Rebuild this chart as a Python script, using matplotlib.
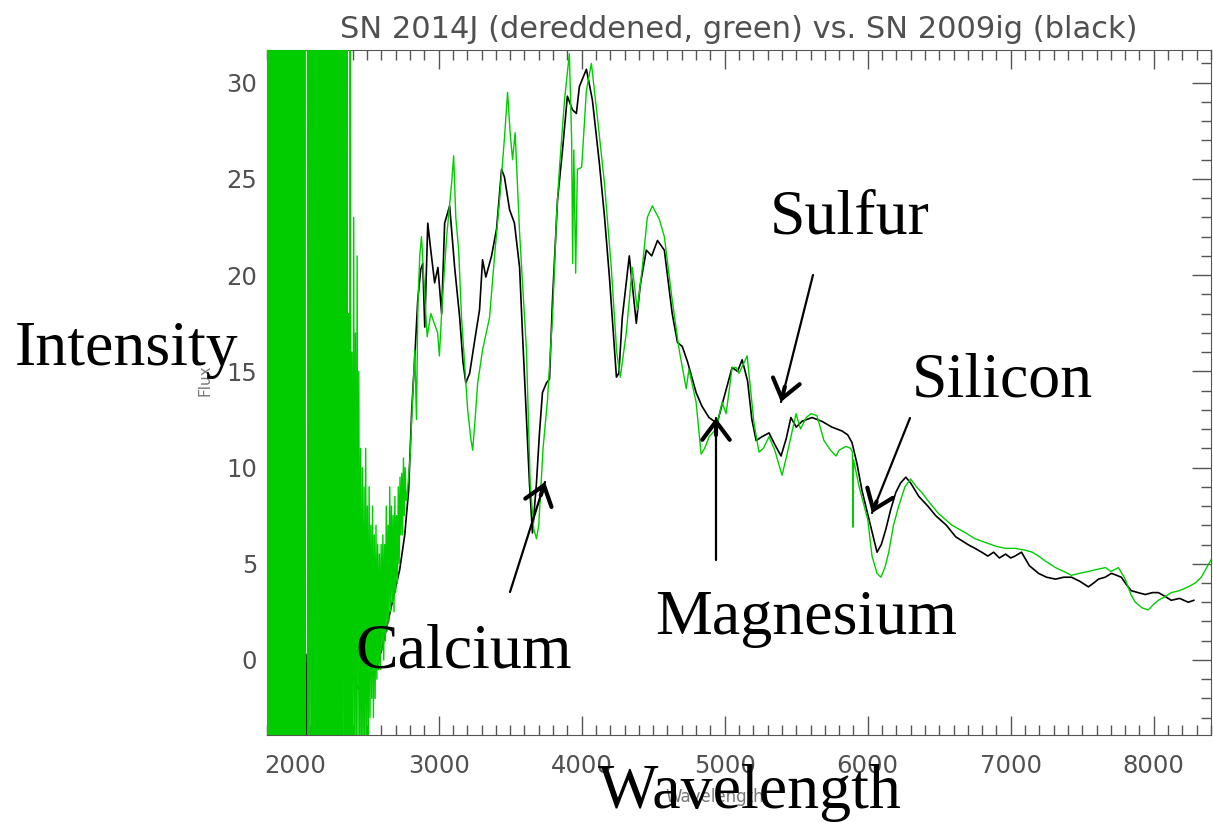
import numpy as np
import matplotlib.pyplot as plt
from matplotlib.ticker import MultipleLocator

# SN 2009ig (black): wavelength [A], flux
ig_wave = [2000, 2020, 2040, 2060, 2072, 2078, 2082, 2090, 2120, 2160, 2200, 2240,
           2280, 2320, 2360, 2400, 2440, 2484, 2530, 2568, 2610, 2658, 2700, 2728,
           2763, 2790, 2812, 2833, 2854, 2875, 2889, 2903, 2924, 2945, 2972, 2995,
           3021, 3042, 3077, 3112, 3147, 3170, 3190, 3217, 3252, 3286, 3307, 3330,
           3370, 3405, 3440, 3460, 3496, 3530, 3566, 3586, 3614, 3635, 3656, 3684,
           3705, 3726, 3754, 3775, 3796, 3831, 3866, 3900, 3935, 3963, 3984, 4033,
           4075, 4124, 4160, 4194, 4243, 4260, 4284, 4333, 4382, 4410, 4452, 4490,
           4530, 4578, 4633, 4670, 4703, 4740, 4800, 4840, 4890, 4947, 4990, 5052,
           5090, 5122, 5160, 5190, 5220, 5260, 5310, 5350, 5394, 5430, 5463, 5500,
           5540, 5610, 5680, 5750, 5820, 5860, 5890, 5925, 5960, 6022, 6065, 6095,
           6127, 6160, 6196, 6230, 6266, 6300, 6357, 6420, 6475, 6550, 6615, 6700,
           6750, 6797, 6840, 6880, 6920, 6964, 7000, 7030, 7075, 7130, 7194, 7250,
           7313, 7370, 7424, 7480, 7543, 7580, 7613, 7660, 7704, 7740, 7773, 7810,
           7843, 7890, 7941, 7990, 8032, 8080, 8122, 8180, 8241, 8280]
ig_flux = [0.5, -0.5, 0.8, -1.0, 0.3, -3.9, -0.5, 0.4, 0.3, -0.8, 0.6, -0.4,
           0.9, -0.6, 0.2, -0.9, -1.5, -1.0, -0.8, -0.4, 0.8, 2.4, 3.8, 4.7,
           6.5, 8.8, 13.0, 15.7, 18.7, 20.3, 20.6, 17.3, 22.7, 21.3, 19.6, 20.4,
           18.0, 22.7, 23.6, 20.4, 17.8, 15.5, 14.4, 14.9, 16.6, 18.2, 20.8, 19.9,
           21.0, 22.4, 25.5, 25.1, 23.4, 22.7, 20.4, 17.0, 12.6, 9.2, 6.6, 9.2,
           11.8, 13.9, 14.4, 14.6, 18.7, 23.9, 26.5, 29.3, 28.6, 28.4, 29.8, 30.7,
           29.1, 25.8, 23.0, 19.9, 14.7, 14.9, 17.8, 21.0, 17.5, 19.5, 21.3, 21.0,
           21.8, 21.3, 18.0, 16.5, 16.3, 15.5, 13.9, 13.2, 12.6, 12.3, 13.5, 15.2,
           15.0, 15.6, 14.5, 12.5, 11.4, 11.6, 11.8, 11.2, 10.6, 11.5, 12.6, 12.1,
           12.4, 12.6, 12.4, 12.1, 11.9, 11.7, 11.3, 10.2, 8.8, 6.9, 5.6, 6.0,
           6.8, 7.8, 8.7, 9.2, 9.5, 9.2, 8.5, 8.0, 7.5, 7.0, 6.4, 6.0,
           5.8, 5.6, 5.4, 5.6, 5.3, 5.5, 5.3, 5.4, 5.6, 4.9, 4.5, 4.3,
           4.2, 4.3, 4.3, 4.1, 3.8, 4.0, 4.2, 4.3, 4.5, 4.4, 4.3, 3.9,
           3.6, 3.5, 3.4, 3.5, 3.5, 3.3, 3.1, 3.2, 3.0, 3.1]

# SN 2014J (green): noisy UV part on a 6 A grid
j_uv_wave = np.arange(1800, 2778, 6)
j_uv_flux = [40, -10, 42, -8, 39, -12, 44, -9, 41, -11,
             38, -7, 43, -10, 40, -13, 45, -8, 37, -10,
             42, -9, 39, -12, 44, -7, 41, -10, 38, -11,
             43, -8, 40, -12, 39, -9, 45, -10, 41, -7,
             44, -11, 38, -9, 42, -10, np.nan, 41, -12, 39,
             -8, 43, -10, 40, -13, 42, -9, 38, -11, 44,
             -7, 41, -10, 39, -12, 45, -8, 40, -9, 42,
             -11, 38, -10, 43, -7, 41, -12, 39, -9, 44,
             -10, 40, -8, 42, -11, 38, -9, 41, -12, 43,
             -7, 39, -10, 42, -9, 18, -11, 40, -8, 16,
             -6, 23, -5, 17, -6, 21, -4, 15, -5, 11,
             -6, 10, -5, 9, -6, 11, -4, 8, -5, 9,
             -3, 7, -2, 8, -3, 6.5, -2, 7, -1, 6,
             -0.5, 5.5, -0.5, 6, 0.5, 6.5, 0, 6, 1, 8,
             1.5, 7, 2, 9, 2.5, 8, 3, 7.5, 2.5, 8.5,
             3.5, 7.5, 4, 9, 5, 9.5, 6.5, 9.7, 6.5, 10.5,
             7.5, 10, 8.3]

# SN 2014J (green): optical part
j_wave = [2777, 2800, 2833, 2845, 2855, 2868, 2880, 2910, 2920, 2945, 2993, 3005,
          3025, 3056, 3091, 3105, 3120, 3140, 3160, 3203, 3225, 3238, 3255, 3273,
          3307, 3356, 3391, 3426, 3461, 3482, 3500, 3517, 3535, 3566, 3614, 3640,
          3665, 3684, 3700, 3730, 3761, 3796, 3824, 3845, 3880, 3914, 3930, 3937,
          3945, 3958, 3970, 4000, 4033, 4068, 4110, 4159, 4207, 4245, 4270, 4312,
          4354, 4389, 4424, 4459, 4494, 4543, 4578, 4633, 4682, 4731, 4750, 4800,
          4835, 4860, 4891, 4940, 4982, 5010, 5052, 5080, 5100, 5157, 5205, 5240,
          5270, 5310, 5350, 5401, 5430, 5463, 5499, 5530, 5570, 5603, 5645, 5694,
          5740, 5778, 5800, 5847, 5880, 5893, 5897, 5901, 5940, 6000, 6030, 6065,
          6092, 6120, 6147, 6180, 6217, 6260, 6300, 6340, 6378, 6440, 6496, 6590,
          6685, 6750, 6824, 6900, 6964, 7030, 7103, 7150, 7194, 7250, 7313, 7370,
          7424, 7480, 7543, 7600, 7662, 7700, 7753, 7800, 7840, 7871, 7920, 7962,
          8000, 8032, 8080, 8122, 8180, 8241, 8290, 8332, 8370, 8400]
j_flux = [8.3, 10.5, 16.1, 12.5, 18.5, 21.0, 22.0, 18.0, 16.8, 18.0, 17.0, 15.8,
          18.6, 22.0, 24.8, 26.2, 23.0, 21.3, 17.8, 13.0, 11.5, 10.9, 12.5, 14.4,
          16.1, 17.8, 21.0, 23.9, 27.2, 29.5, 27.4, 26.0, 27.4, 22.2, 16.1, 9.2,
          6.8, 6.3, 7.0, 11.0, 13.5, 17.8, 23.0, 25.6, 29.1, 31.5, 27.0, 20.6,
          26.5, 20.1, 25.5, 25.6, 29.6, 31.0, 28.2, 24.8, 20.4, 16.0, 14.7, 17.0,
          20.4, 18.2, 20.4, 23.0, 23.6, 22.9, 22.0, 18.7, 16.1, 14.1, 15.1, 13.4,
          10.7, 11.0, 11.6, 12.0, 13.4, 12.8, 15.2, 15.2, 14.9, 15.8, 12.3, 10.8,
          11.0, 11.6, 10.9, 9.6, 10.5, 11.6, 12.8, 12.0, 12.6, 12.8, 12.7, 11.4,
          10.9, 10.6, 10.9, 11.1, 11.0, 10.8, 6.9, 10.4, 9.0, 7.3, 5.4, 4.5,
          4.3, 4.8, 5.6, 7.0, 8.0, 9.0, 9.4, 9.0, 8.7, 8.1, 7.6, 7.0,
          6.6, 6.3, 6.1, 5.9, 5.8, 5.8, 5.7, 5.6, 5.4, 5.1, 4.8, 4.6,
          4.4, 4.5, 4.6, 4.7, 4.8, 4.6, 4.8, 4.2, 3.4, 3.0, 2.7, 2.6,
          2.9, 3.1, 3.3, 3.5, 3.6, 3.8, 4.0, 4.3, 4.8, 5.2]

W, H = 1213, 822


def fx(px):
    return px / W


def fy(py):
    return 1 - py / H


fig = plt.figure(figsize=(W / 100, H / 100), dpi=100)
ax = fig.add_axes([fx(267), fy(735), (1211 - 267) / W, (735 - 50) / H])

green = '#00cc00'
ax.plot(ig_wave, ig_flux, color='black', lw=1.2, zorder=2)
ax.plot(np.concatenate([j_uv_wave, j_wave]), np.concatenate([j_uv_flux, j_flux]),
        color=green, lw=1.0, zorder=3)

ax.set_xlim(1800, 8400)
ax.set_ylim(-3.9, 31.7)

gray = '#555555'
ax.xaxis.set_major_locator(MultipleLocator(1000))
ax.xaxis.set_minor_locator(MultipleLocator(100))
ax.yaxis.set_major_locator(MultipleLocator(5))
ax.yaxis.set_minor_locator(MultipleLocator(1))
ax.tick_params(which='both', direction='in', top=True, right=True, color=gray,
               labelcolor='#505050', labelsize=17.5)
ax.tick_params(which='major', length=14, width=1)
ax.tick_params(which='minor', length=7, width=1)
ax.tick_params(axis='x', pad=14)
ax.tick_params(axis='y', pad=7)
for s in ax.spines.values():
    s.set_color(gray)

ax.set_title('SN 2014J (dereddened, green) vs. SN 2009ig (black)',
             fontsize=22, color='#505050', pad=9)

# small original axis labels
fig.text(fx(205), fy(380), 'Flux', rotation=90, fontsize=11, color='#777777',
         ha='center', va='center')
fig.text(fx(715), fy(797), 'Wavelength', fontsize=12, color='#777777',
         ha='center', va='center')

# big overlay labels
serif = dict(family='Liberation Serif', fontsize=46, color='black')
fig.text(fx(15), fy(365), 'Intensity', ha='left', va='baseline', **serif)
fig.text(fx(598), fy(808), 'Wavelength', ha='left', va='baseline', **serif)
fig.text(fx(355), fy(667), 'Calcium', ha='left', va='baseline', **serif)
fig.text(fx(655), fy(634), 'Magnesium', ha='left', va='baseline', **serif)
fig.text(fx(770), fy(234), 'Sulfur', ha='left', va='baseline', **serif)
fig.text(fx(912), fy(396), 'Silicon', ha='left', va='baseline', **serif)

# arrows: thin shaft plus a heavier open head
arrows = [((510, 592), (545, 482)),
          ((716, 560), (716, 418)),
          ((813, 275), (781, 402)),
          ((910, 418), (872, 513))]
for (tx, ty), (hx, hy) in arrows:
    ax.annotate('', xy=(fx(hx), fy(hy)), xycoords='figure fraction',
                xytext=(fx(tx), fy(ty)), textcoords='figure fraction',
                arrowprops=dict(arrowstyle='-', lw=1.6, color='black',
                                shrinkA=0, shrinkB=0))
    k = 0.12
    sx, sy = hx + (tx - hx) * k, hy + (ty - hy) * k
    ax.annotate('', xy=(fx(hx), fy(hy)), xycoords='figure fraction',
                xytext=(fx(sx), fy(sy)), textcoords='figure fraction',
                arrowprops=dict(arrowstyle='->,head_length=0.6,head_width=0.45',
                                lw=3, color='black', mutation_scale=22,
                                shrinkA=0, shrinkB=0))

fig.savefig('out.png', dpi=100)
